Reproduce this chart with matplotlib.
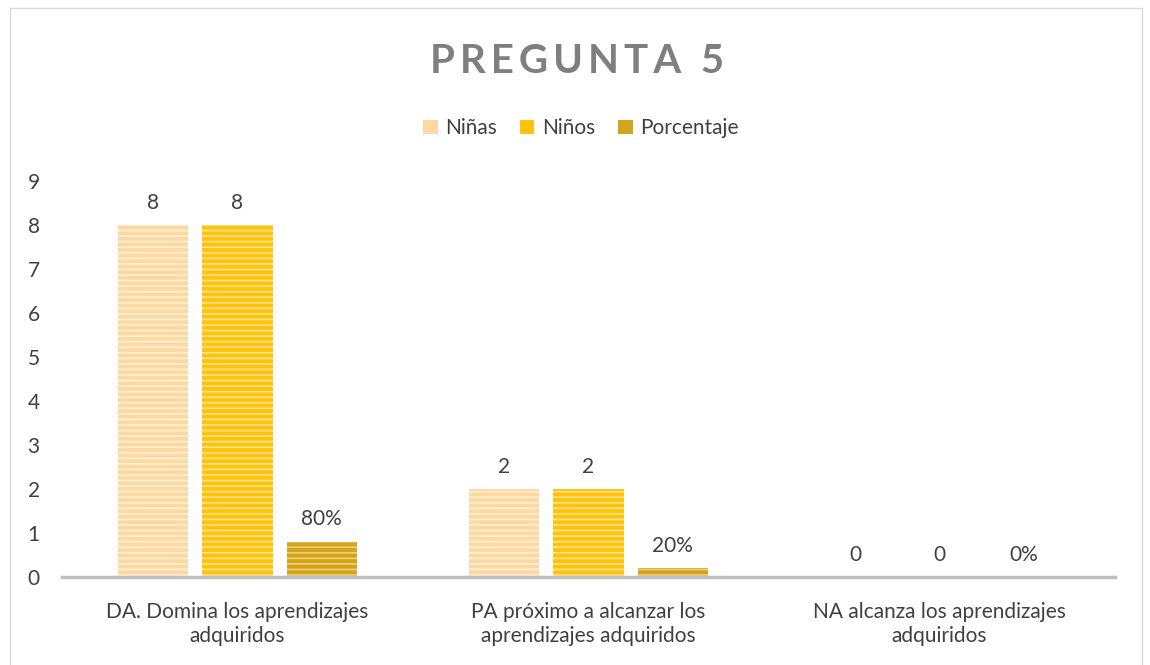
import numpy as np
import matplotlib.pyplot as plt
from matplotlib.patches import Rectangle

categories = ["DA. Domina los aprendizajes\nadquiridos",
              "PA próximo a alcanzar los\naprendizajes adquiridos",
              "NA alcanza los aprendizajes\nadquiridos"]
ninas = [8, 2, 0]
ninos = [8, 2, 0]
porcentaje = [0.8, 0.2, 0.0]
series_names = ["Niñas", "Niños", "Porcentaje"]

plt.rcParams['font.family'] = ['Lato', 'DejaVu Sans']
plt.rcParams['hatch.linewidth'] = 1.2

fig = plt.figure(figsize=(11.5, 6.65), dpi=100)
ax = fig.add_axes([0.0539, 0.1323, 0.9157, 0.5955])

colors = ["#FDD9A2", "#FFC20E", "#D4A51C"]
hatchcols = ["#FFEFD9", "#FFE58A", "#EDD27A"]
x = np.arange(len(categories))
w = 0.2
offs = [-0.24, 0, 0.24]
data = [ninas, ninos, porcentaje]
txtcol = "#404040"
fs = 15

for i, (vals, name) in enumerate(zip(data, series_names)):
    bars = ax.bar(x + offs[i], vals, w, color=colors[i], edgecolor=hatchcols[i],
                  linewidth=0, hatch='---', label=name, zorder=2)
    if i == 2:
        labels = [f"{v:.0%}" for v in vals]
    else:
        labels = [f"{v:g}" for v in vals]
    for b, lab in zip(bars, labels):
        ax.annotate(lab, (b.get_x() + b.get_width() / 2, b.get_height()),
                    xytext=(0, 9), textcoords='offset points', ha='center',
                    va='bottom', fontsize=fs, color=txtcol)

ax.set_xlim(-0.5, 2.5)
ax.set_ylim(0, 9)
ax.set_yticks(range(10))
ax.set_xticks(x)
ax.set_xticklabels(categories, fontsize=fs, color=txtcol, linespacing=1.25)
ax.tick_params(axis='y', length=0, labelsize=fs, labelcolor=txtcol, pad=16)
ax.tick_params(axis='x', length=0, pad=18)
for s in ['top', 'right', 'left']:
    ax.spines[s].set_visible(False)
ax.spines['bottom'].set_color("#BFBFBF")
ax.spines['bottom'].set_linewidth(2.5)
ax.spines['bottom'].set_zorder(3)

leg = fig.legend(loc='center', bbox_to_anchor=(0.505, 0.807), ncol=3, frameon=False,
                 fontsize=15, handlelength=0.7, handleheight=0.7, handletextpad=0.35,
                 columnspacing=1.1, labelcolor=txtcol)
for h in leg.legend_handles:
    h.set_hatch(None)

fig.text(0.502, 0.908, "P R E G U N T A   5".replace(" ", "\u2009").replace("\u2009\u2009\u2009", "  "),
         ha='center', va='center', fontsize=29, fontweight='bold', color="#7F7F7F")

fig.patches.append(Rectangle((10 / 1150, -0.01), 1132 / 1150, 1 - 8 / 665 + 0.01,
                             transform=fig.transFigure, fill=False,
                             edgecolor="#D9D9D9", linewidth=1))

fig.savefig("out.png", dpi=100)
